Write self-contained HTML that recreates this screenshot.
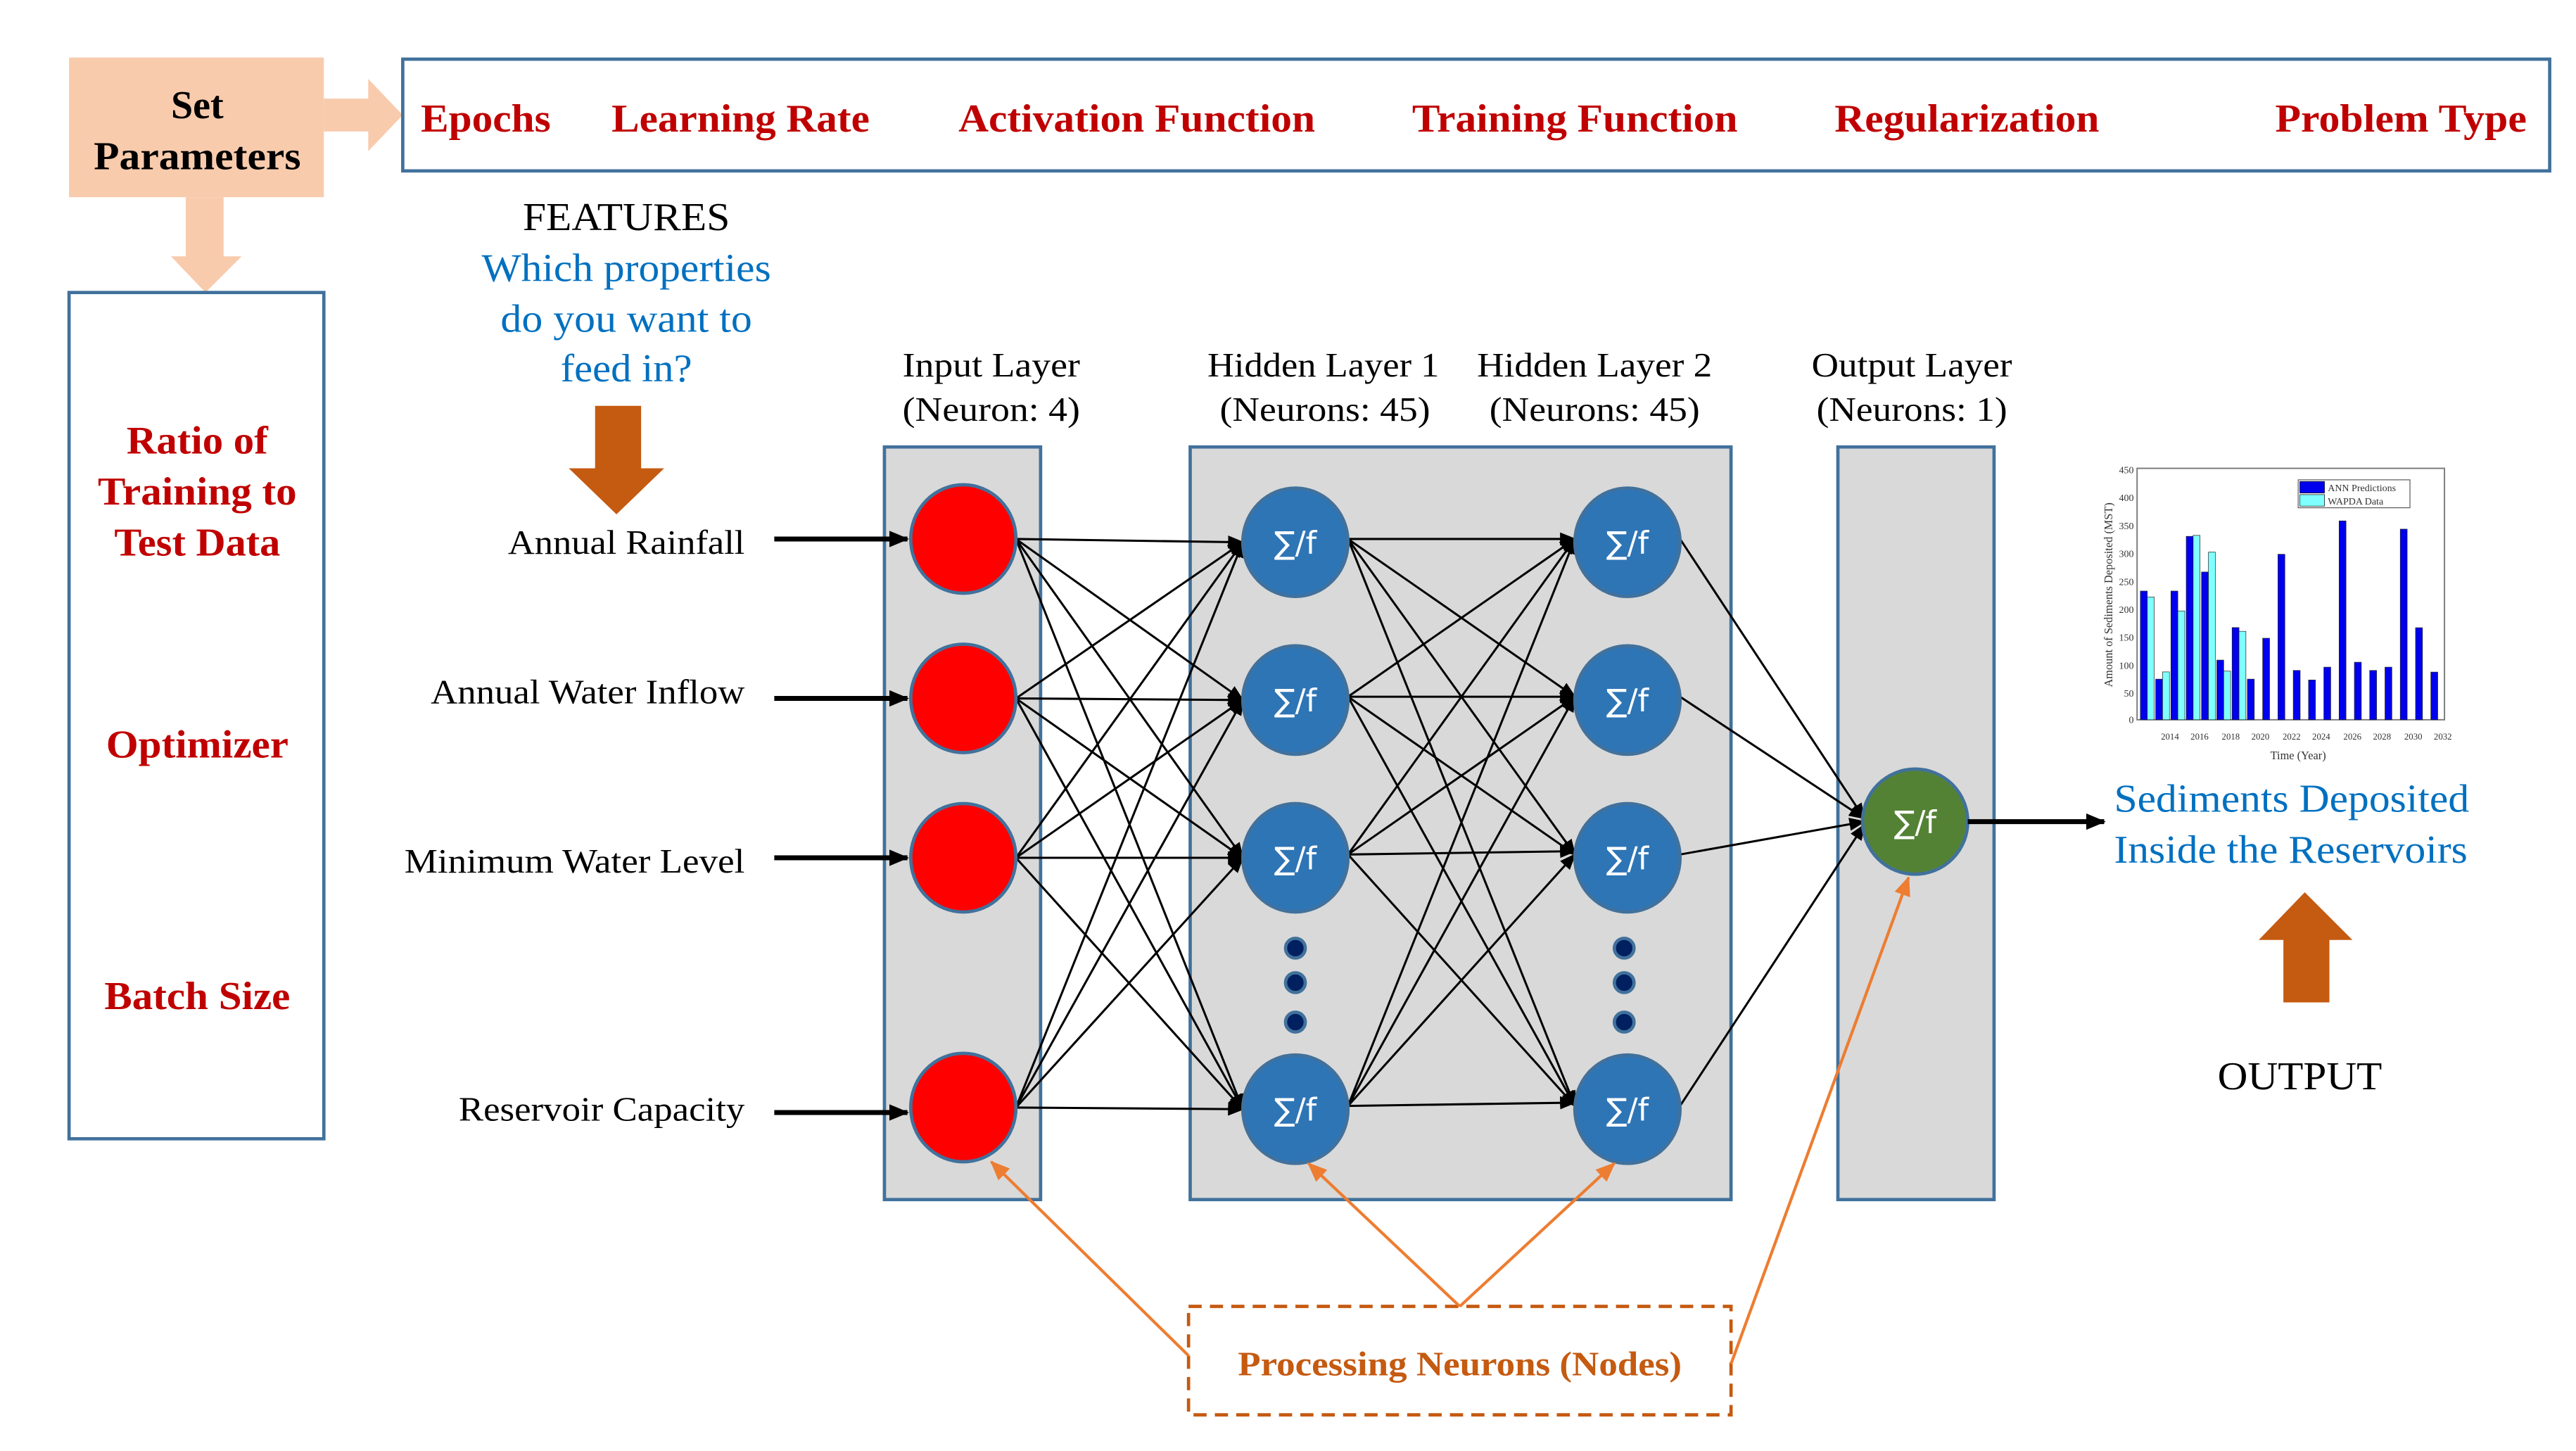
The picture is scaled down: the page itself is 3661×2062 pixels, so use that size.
<!DOCTYPE html>
<html><head><meta charset="utf-8"><style>
html,body{margin:0;padding:0;background:#fff;}
svg{display:block;}
.s{font-family:"Liberation Serif",serif;}
</style></head><body>
<svg width="3661" height="2062" viewBox="0 0 1567 883" preserveAspectRatio="none" xmlns="http://www.w3.org/2000/svg">
<defs>
<marker id="a" markerWidth="10" markerHeight="8" refX="9" refY="4" orient="auto" markerUnits="userSpaceOnUse"><path d="M0,0 L10,4 L0,8 Z" fill="#000"/></marker>
<marker id="b" markerWidth="12" markerHeight="10" refX="11" refY="5" orient="auto" markerUnits="userSpaceOnUse"><path d="M0,0 L12,5 L0,10 Z" fill="#000"/></marker>
<marker id="o" markerWidth="12" markerHeight="10" refX="11" refY="5" orient="auto" markerUnits="userSpaceOnUse"><path d="M0,0 L12,5 L0,10 Z" fill="#ed7d31"/></marker>
</defs>
<rect width="1567" height="883" fill="#fff"/>
<rect x="42" y="35" width="155" height="85" fill="#f8cbad"/>
<path d="M197,60 L224,60 L224,48 L245,70 L224,92 L224,80 L197,80 Z" fill="#f8cbad"/>
<path d="M113,120 L136,120 L136,156 L147,156 L125,178 L104,156 L113,156 Z" fill="#f8cbad"/>
<g class="s" font-weight="bold" font-size="24" text-anchor="middle" fill="#000">
<text x="120" y="72">Set</text><text x="120" y="103" textLength="126" lengthAdjust="spacingAndGlyphs">Parameters</text>
</g>
<rect x="245" y="36" width="1306" height="68" fill="none" stroke="#41719c" stroke-width="2"/>
<g class="s" font-weight="bold" font-size="24" fill="#c00000">
<text x="256" y="80" textLength="79" lengthAdjust="spacingAndGlyphs">Epochs</text>
<text x="372" y="80" textLength="157" lengthAdjust="spacingAndGlyphs">Learning Rate</text>
<text x="583" y="80" textLength="217" lengthAdjust="spacingAndGlyphs">Activation Function</text>
<text x="859" y="80" textLength="198" lengthAdjust="spacingAndGlyphs">Training Function</text>
<text x="1116" y="80" textLength="161" lengthAdjust="spacingAndGlyphs">Regularization</text>
<text x="1384" y="80" textLength="153" lengthAdjust="spacingAndGlyphs">Problem Type</text>
</g>
<rect x="42" y="178" width="155" height="515" fill="none" stroke="#41719c" stroke-width="2"/>
<g class="s" font-weight="bold" font-size="24" fill="#c00000" text-anchor="middle">
<text x="120" y="276" textLength="86" lengthAdjust="spacingAndGlyphs">Ratio of</text>
<text x="120" y="307" textLength="121" lengthAdjust="spacingAndGlyphs">Training to</text>
<text x="120" y="338" textLength="101" lengthAdjust="spacingAndGlyphs">Test Data</text>
<text x="120" y="461" textLength="111" lengthAdjust="spacingAndGlyphs">Optimizer</text>
<text x="120" y="614" textLength="113" lengthAdjust="spacingAndGlyphs">Batch Size</text>
</g>
<g class="s" font-size="24" text-anchor="middle">
<text x="381" y="140" fill="#000" textLength="126" lengthAdjust="spacingAndGlyphs">FEATURES</text>
<text x="381" y="171" fill="#0070c0" textLength="176" lengthAdjust="spacingAndGlyphs">Which properties</text>
<text x="381" y="202" fill="#0070c0" textLength="153" lengthAdjust="spacingAndGlyphs">do you want to</text>
<text x="381" y="232" fill="#0070c0" textLength="80" lengthAdjust="spacingAndGlyphs">feed in?</text>
</g>
<path d="M362,247 L390,247 L390,285 L404,285 L375,313 L346,285 L362,285 Z" fill="#c55a11"/>
<g class="s" font-size="21" text-anchor="end" fill="#000">
<text x="453" y="337" textLength="144" lengthAdjust="spacingAndGlyphs">Annual Rainfall</text>
<text x="453" y="428" textLength="191" lengthAdjust="spacingAndGlyphs">Annual Water Inflow</text>
<text x="453" y="531" textLength="207" lengthAdjust="spacingAndGlyphs">Minimum Water Level</text>
<text x="453" y="682" textLength="174" lengthAdjust="spacingAndGlyphs">Reservoir Capacity</text>
</g>
<g class="s" font-size="21" text-anchor="middle" fill="#000">
<text x="603" y="229" textLength="108" lengthAdjust="spacingAndGlyphs">Input Layer</text>
<text x="603" y="256" textLength="108" lengthAdjust="spacingAndGlyphs">(Neuron: 4)</text>
<text x="805" y="229" textLength="141" lengthAdjust="spacingAndGlyphs">Hidden Layer 1</text>
<text x="806" y="256" textLength="128" lengthAdjust="spacingAndGlyphs">(Neurons: 45)</text>
<text x="970" y="229" textLength="143" lengthAdjust="spacingAndGlyphs">Hidden Layer 2</text>
<text x="970" y="256" textLength="128" lengthAdjust="spacingAndGlyphs">(Neurons: 45)</text>
<text x="1163" y="229" textLength="122" lengthAdjust="spacingAndGlyphs">Output Layer</text>
<text x="1163" y="256" textLength="116" lengthAdjust="spacingAndGlyphs">(Neurons: 1)</text>
</g>
<g fill="#d9d9d9" stroke="#41719c" stroke-width="2">
<rect x="538" y="272" width="95" height="458"/>
<rect x="724" y="272" width="329" height="458"/>
<rect x="1118" y="272" width="95" height="458"/>
</g>
<g stroke="#000" stroke-width="3" marker-end="url(#b)">
<line x1="471" y1="328" x2="552" y2="328"/><line x1="471" y1="425" x2="552" y2="425"/>
<line x1="471" y1="522" x2="552" y2="522"/><line x1="471" y1="677" x2="552" y2="677"/>
</g>
<g stroke="#000" stroke-width="1.3" marker-end="url(#a)">
<line x1="618" y1="328" x2="756" y2="330"/><line x1="618" y1="328" x2="756" y2="426"/><line x1="618" y1="328" x2="756" y2="522"/><line x1="618" y1="328" x2="756" y2="675"/>
<line x1="618" y1="425" x2="756" y2="330"/><line x1="618" y1="425" x2="756" y2="426"/><line x1="618" y1="425" x2="756" y2="522"/><line x1="618" y1="425" x2="756" y2="675"/>
<line x1="618" y1="522" x2="756" y2="330"/><line x1="618" y1="522" x2="756" y2="426"/><line x1="618" y1="522" x2="756" y2="522"/><line x1="618" y1="522" x2="756" y2="675"/>
<line x1="618" y1="674" x2="756" y2="330"/><line x1="618" y1="674" x2="756" y2="426"/><line x1="618" y1="674" x2="756" y2="522"/><line x1="618" y1="674" x2="756" y2="675"/>
<line x1="820" y1="328" x2="958" y2="328"/><line x1="820" y1="328" x2="958" y2="424"/><line x1="820" y1="328" x2="958" y2="520"/><line x1="820" y1="328" x2="958" y2="673"/>
<line x1="820" y1="424" x2="958" y2="328"/><line x1="820" y1="424" x2="958" y2="424"/><line x1="820" y1="424" x2="958" y2="520"/><line x1="820" y1="424" x2="958" y2="673"/>
<line x1="820" y1="520" x2="958" y2="328"/><line x1="820" y1="520" x2="958" y2="424"/><line x1="820" y1="520" x2="958" y2="518"/><line x1="820" y1="520" x2="958" y2="673"/>
<line x1="820" y1="673" x2="958" y2="328"/><line x1="820" y1="673" x2="958" y2="424"/><line x1="820" y1="673" x2="958" y2="520"/><line x1="820" y1="673" x2="958" y2="671"/>
<line x1="1022" y1="328" x2="1134" y2="498"/><line x1="1022" y1="424" x2="1134" y2="498"/><line x1="1022" y1="520" x2="1134" y2="500"/><line x1="1022" y1="673" x2="1134" y2="502"/>
</g>
<g stroke="#41719c" stroke-width="2">
<ellipse cx="586" cy="328" rx="32" ry="33" fill="#ff0000"/>
<ellipse cx="586" cy="425" rx="32" ry="33" fill="#ff0000"/>
<ellipse cx="586" cy="522" rx="32" ry="33" fill="#ff0000"/>
<ellipse cx="586" cy="674" rx="32" ry="33" fill="#ff0000"/>
<ellipse cx="788" cy="330" rx="32" ry="33" fill="#2e75b6"/>
<ellipse cx="788" cy="426" rx="32" ry="33" fill="#2e75b6"/>
<ellipse cx="788" cy="522" rx="32" ry="33" fill="#2e75b6"/>
<ellipse cx="788" cy="675" rx="32" ry="33" fill="#2e75b6"/>
<ellipse cx="990" cy="330" rx="32" ry="33" fill="#2e75b6"/>
<ellipse cx="990" cy="426" rx="32" ry="33" fill="#2e75b6"/>
<ellipse cx="990" cy="522" rx="32" ry="33" fill="#2e75b6"/>
<ellipse cx="990" cy="675" rx="32" ry="33" fill="#2e75b6"/>
<circle cx="1165" cy="500" r="32" fill="#548235"/>
<circle cx="788" cy="577" r="6" fill="#002060"/><circle cx="788" cy="598" r="6" fill="#002060"/><circle cx="788" cy="622" r="6" fill="#002060"/>
<circle cx="988" cy="577" r="6" fill="#002060"/><circle cx="988" cy="598" r="6" fill="#002060"/><circle cx="988" cy="622" r="6" fill="#002060"/>
</g>
<g font-family="'DejaVu Sans',sans-serif" font-size="19" fill="#fff" text-anchor="middle">
<text x="788" y="337">∑/f</text><text x="788" y="433">∑/f</text><text x="788" y="529">∑/f</text><text x="788" y="682">∑/f</text>
<text x="990" y="337">∑/f</text><text x="990" y="433">∑/f</text><text x="990" y="529">∑/f</text><text x="990" y="682">∑/f</text>
<text x="1165" y="507">∑/f</text>
</g>
<line x1="1197" y1="500" x2="1280" y2="500" stroke="#000" stroke-width="3" marker-end="url(#b)"/>
<g>
<rect x="1300" y="285" width="187" height="153" fill="#fff" stroke="#777" stroke-width="0.8"/>
<g stroke="#222" stroke-width="0.3">
<rect x="1302.0" y="359.7" width="4.2" height="78.3" fill="#0000ee"/><rect x="1306.2" y="363.3" width="4.2" height="74.7" fill="#7fffff"/>
<rect x="1311.3" y="413.3" width="4.2" height="24.7" fill="#0000ee"/><rect x="1315.5" y="408.9" width="4.2" height="29.1" fill="#7fffff"/>
<rect x="1320.6" y="359.7" width="4.2" height="78.3" fill="#0000ee"/><rect x="1324.8" y="371.8" width="4.2" height="66.2" fill="#7fffff"/>
<rect x="1329.9" y="326.4" width="4.2" height="111.6" fill="#0000ee"/><rect x="1334.1" y="325.8" width="4.2" height="112.2" fill="#7fffff"/>
<rect x="1339.2" y="348.1" width="4.2" height="89.9" fill="#0000ee"/><rect x="1343.4" y="336.0" width="4.2" height="102.0" fill="#7fffff"/>
<rect x="1348.5" y="401.7" width="4.2" height="36.3" fill="#0000ee"/><rect x="1352.7" y="408.4" width="4.2" height="29.6" fill="#7fffff"/>
<rect x="1357.8" y="381.9" width="4.2" height="56.1" fill="#0000ee"/><rect x="1362.0" y="384.2" width="4.2" height="53.8" fill="#7fffff"/>
<rect x="1367.1" y="413.3" width="4.2" height="24.7" fill="#0000ee"/>
<rect x="1376.4" y="388.4" width="4.2" height="49.6" fill="#0000ee"/>
<rect x="1385.7" y="337.3" width="4.2" height="100.7" fill="#0000ee"/>
<rect x="1395.0" y="408.0" width="4.2" height="30.0" fill="#0000ee"/>
<rect x="1404.3" y="413.8" width="4.2" height="24.2" fill="#0000ee"/>
<rect x="1413.6" y="406.0" width="4.2" height="32.0" fill="#0000ee"/>
<rect x="1422.9" y="317.0" width="4.2" height="121.0" fill="#0000ee"/>
<rect x="1432.2" y="403.0" width="4.2" height="35.0" fill="#0000ee"/>
<rect x="1441.5" y="408.0" width="4.2" height="30.0" fill="#0000ee"/>
<rect x="1450.8" y="406.0" width="4.2" height="32.0" fill="#0000ee"/>
<rect x="1460.1" y="322.0" width="4.2" height="116.0" fill="#0000ee"/>
<rect x="1469.4" y="382.0" width="4.2" height="56.0" fill="#0000ee"/>
<rect x="1478.7" y="409.0" width="4.2" height="29.0" fill="#0000ee"/>
</g>
<rect x="1398" y="292" width="68" height="17" fill="#fff" stroke="#555" stroke-width="0.5"/>
<rect x="1399" y="293" width="15" height="7" fill="#0000ee" stroke="#000" stroke-width="0.3"/>
<rect x="1399" y="301" width="15" height="7" fill="#7fffff" stroke="#000" stroke-width="0.3"/>
<g class="s" font-size="6" fill="#333">
<text x="1416" y="299">ANN Predictions</text><text x="1416" y="307">WAPDA Data</text>
<g text-anchor="end"><text x="1298" y="288">450</text><text x="1298" y="305">400</text><text x="1298" y="322">350</text><text x="1298" y="339">300</text><text x="1298" y="356">250</text><text x="1298" y="373">200</text><text x="1298" y="390">150</text><text x="1298" y="407">100</text><text x="1298" y="424">50</text><text x="1298" y="440">0</text></g>
<g text-anchor="middle" font-size="5.5"><text x="1320" y="450">2014</text><text x="1338" y="450">2016</text><text x="1357" y="450">2018</text><text x="1375" y="450">2020</text><text x="1394" y="450">2022</text><text x="1412" y="450">2024</text><text x="1431" y="450">2026</text><text x="1449" y="450">2028</text><text x="1468" y="450">2030</text><text x="1486" y="450">2032</text></g>
<text x="1398" y="462" text-anchor="middle" font-size="7">Time (Year)</text>
<text transform="translate(1285,362) rotate(-90)" text-anchor="middle" font-size="7">Amount of Sediments Deposited (MST)</text>
</g>
</g>
<g class="s" font-size="24" fill="#0070c0">
<text x="1286" y="494" textLength="216" lengthAdjust="spacingAndGlyphs">Sediments Deposited</text>
<text x="1286" y="525" textLength="215" lengthAdjust="spacingAndGlyphs">Inside the Reservoirs</text>
</g>
<path d="M1402,543 L1431,572 L1417,572 L1417,610 L1389,610 L1389,572 L1374,572 Z" fill="#c55a11"/>
<text class="s" x="1399" y="663" font-size="24" text-anchor="middle" textLength="100" lengthAdjust="spacingAndGlyphs">OUTPUT</text>
<rect x="723" y="795" width="330" height="66" fill="none" stroke="#c55a11" stroke-width="2" stroke-dasharray="8,5"/>
<text class="s" x="888" y="837" font-size="21" font-weight="bold" fill="#c55a11" text-anchor="middle" textLength="270" lengthAdjust="spacingAndGlyphs">Processing Neurons (Nodes)</text>
<g stroke="#ed7d31" stroke-width="1.8" marker-end="url(#o)">
<line x1="723" y1="825" x2="603" y2="707"/>
<line x1="888" y1="795" x2="796" y2="708"/>
<line x1="888" y1="795" x2="982" y2="708"/>
<line x1="1053" y1="830" x2="1161" y2="534"/>
</g>
</svg>
</body></html>
